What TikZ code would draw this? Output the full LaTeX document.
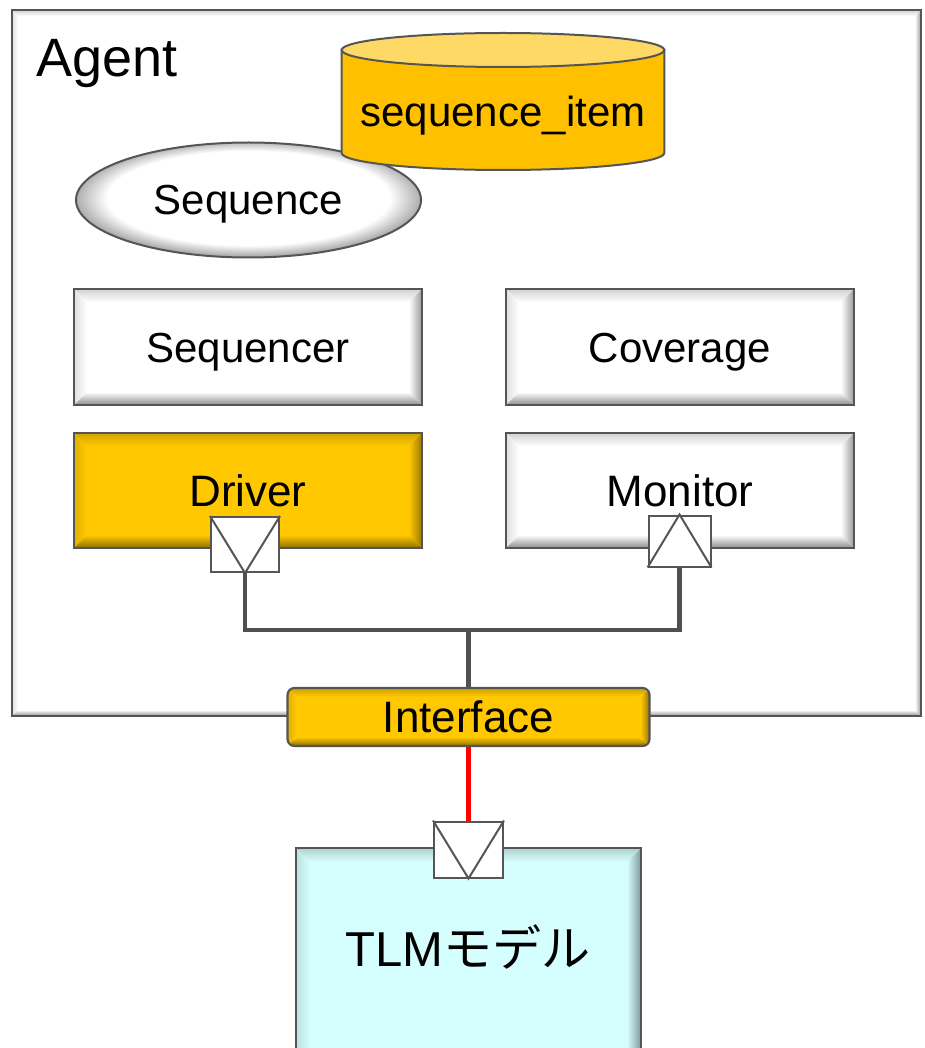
\documentclass[tikz,border=0pt]{standalone}
\usepackage{fontspec}
\setmainfont{Liberation Sans}
\newfontfamily\jp{Noto Sans CJK JP}
\usetikzlibrary{shapes.geometric}

\definecolor{edge}{HTML}{555555}
\definecolor{gold}{HTML}{FFC800}
\definecolor{cylbody}{HTML}{FFC000}
\definecolor{cyltop}{HTML}{FFD966}
\definecolor{tlmfill}{HTML}{D5FFFF}
\definecolor{wirecol}{HTML}{505050}

\newcommand\bevelcolor{white}
\newcommand\bevelwidth{12pt}

\tikzset{
  bevel color/.store in=\bevelcolor,
  bevel width/.store in=\bevelwidth,
  % raised, bevelled look: shaded bands along the four sides
  bevel/.style={path picture={
    \coordinate (pA) at (path picture bounding box.north west);
    \coordinate (pB) at (path picture bounding box.north east);
    \coordinate (pC) at (path picture bounding box.south east);
    \coordinate (pD) at (path picture bounding box.south west);
    \coordinate (qA) at ([shift={(\bevelwidth,-\bevelwidth)}]pA);
    \coordinate (qB) at ([shift={(-\bevelwidth,-\bevelwidth)}]pB);
    \coordinate (qC) at ([shift={(-\bevelwidth,\bevelwidth)}]pC);
    \coordinate (qD) at ([shift={(\bevelwidth,\bevelwidth)}]pD);
    \shade[top color=\bevelcolor!82!black, bottom color=\bevelcolor] (pA)--(pB)--(qB)--(qA)--cycle;
    \shade[left color=\bevelcolor!88!black, right color=\bevelcolor] (pA)--(pD)--(qD)--(qA)--cycle;
    \shade[bottom color=\bevelcolor!55!black, top color=\bevelcolor] (pD)--(pC)--(qC)--(qD)--cycle;
    \shade[right color=\bevelcolor!60!black, left color=\bevelcolor] (pB)--(pC)--(qC)--(qB)--cycle;
  }},
  txt42/.style={font=\fontsize{42}{50}\selectfont, text height=30pt, text depth=0pt},
  txt44/.style={font=\fontsize{44}{50}\selectfont, text height=31.5pt, text depth=0pt},
  block/.style={draw=edge, line width=2.2pt, rectangle, inner sep=0pt, txt42},
  port/.style={draw=edge, line width=2pt, fill=white, rectangle, inner sep=0pt},
  vee/.style={draw=edge, line width=2pt},
  wireline/.style={draw=wirecol, line width=4.5pt, line join=miter},
  redline/.style={draw=red, line width=4.5pt},
}

% white centre, thin grey rim (heavier at the bottom)
\pgfdeclareradialshading{glossy}{\pgfpoint{0bp}{1.5bp}}{%
  color(0bp)=(white); color(20.5bp)=(white); color(25bp)=(black!32); color(50bp)=(black!32)}

\begin{document}
\begin{tikzpicture}[x=1pt,y=1pt]
  \useasboundingbox (0,0) rectangle (924,-1048);
  \fill[white] (0,0) rectangle (924,-1048);

  % agent frame
  \node[block, fill=white, bevel color=white, bevel width=6pt, bevel, line width=2.5pt,
        minimum width=909pt, minimum height=706pt] (agent) at (466.5,-363) {};
  \node[anchor=base west, inner sep=0pt, font=\fontsize{54}{60}\selectfont] (agentlbl) at (36,-77) {Agent};

  % sequence (ellipse)
  \node[ellipse, draw=edge, line width=2pt, shade, shading=glossy,
        minimum width=345pt, minimum height=115pt, inner sep=0pt, txt42]
        (seq) at (248.5,-200) {Sequence};

  % sequence_item (cylinder)
  \path[draw=edge, line width=2pt, fill=cylbody]
    (341.7,-50) -- (341.7,-153)
    arc[start angle=180, end angle=360, x radius=161.3, y radius=17]
    -- (664.3,-50) -- cycle;
  \draw[edge, line width=2pt, fill=cyltop] (503,-50) ellipse[x radius=161.3, y radius=17];
  \node[txt42] (item) at (503,-112) {sequence\_item};

  % components
  \node[block, fill=white, bevel color=white, bevel width=13pt, bevel,
        minimum width=348pt, minimum height=116pt] (sqr) at (248,-347) {Sequencer};
  \node[block, fill=white, bevel color=white, bevel width=13pt, bevel,
        minimum width=348pt, minimum height=116pt] (cov) at (680,-347) {Coverage};
  \node[block, fill=gold, bevel color=gold, bevel width=13pt, bevel, txt44,
        minimum width=348pt, minimum height=115pt] (drv) at (248,-490.5) {Driver};
  \node[block, fill=white, bevel color=white, bevel width=13pt, bevel, txt44,
        minimum width=348pt, minimum height=115pt] (mon) at (680,-490.5) {Monitor};

  % ports
  \node[port, minimum width=68pt, minimum height=55pt] (dport) at (245,-544.5) {};
  \draw[vee] (dport.north west) -- (dport.south) -- (dport.north east);
  \node[port, minimum width=62pt, minimum height=51pt] (mport) at (679.5,-541) {};
  \draw[vee] (mport.south west) -- (mport.north) -- (mport.south east);

  % bus
  \coordinate (hub) at (468.5,-630);
  \draw[wireline] (dport.south) |- (hub) -| (mport.south);

  % interface
  \node[block, fill=gold, bevel color=gold, bevel width=9pt, bevel,
        rounded corners=7pt, line width=2.2pt, txt44,
        minimum width=362pt, minimum height=58pt] (iface) at (468.5,-717) {Interface};
  \draw[wireline] (hub) -- (iface.north);

  % TLM model
  \node[block, fill=tlmfill, bevel color=tlmfill, bevel width=14pt, bevel,
        minimum width=345pt, minimum height=214pt] (tlm) at (468.5,-955) {};
  \node[anchor=base, inner sep=0pt, font=\fontsize{49}{56}\selectfont] (tlmlbl) at (468,-966)
    {TLM{\jp モデル}};
  \node[port, minimum width=69pt, minimum height=56pt] (tport) at (468.5,-849.5) {};
  \draw[vee] (tport.north west) -- (tport.south) -- (tport.north east);
  \draw[redline] (iface.south) -- (tport.north);
\end{tikzpicture}
\end{document}
